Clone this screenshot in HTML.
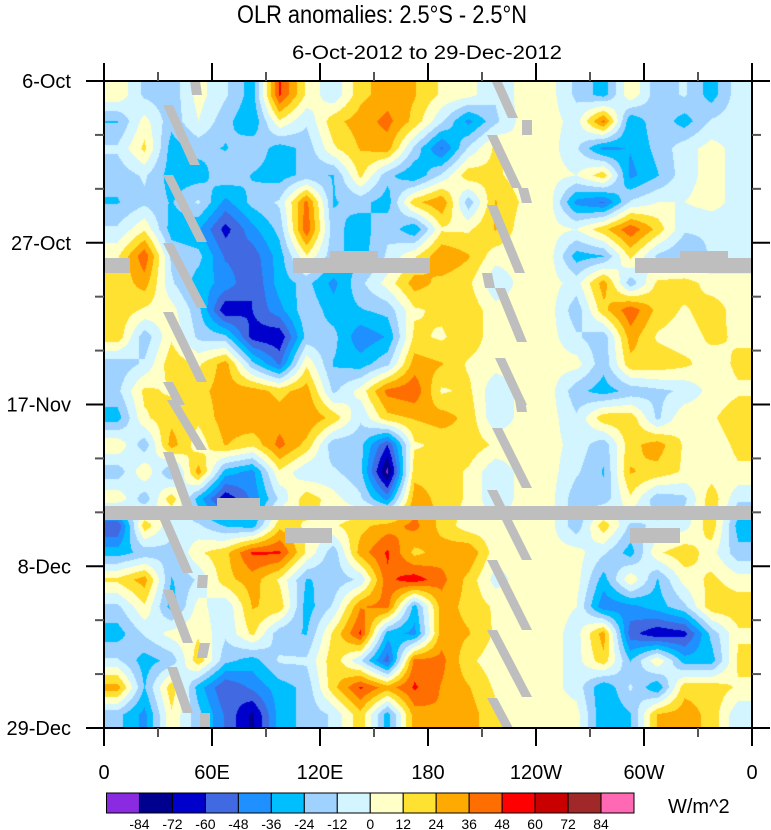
<!DOCTYPE html>
<html><head><meta charset="utf-8">
<style>
body{margin:0;background:#fff;width:771px;height:830px;overflow:hidden;font-family:"Liberation Sans",sans-serif;}
#wrap{position:relative;width:771px;height:830px;}
canvas{position:absolute;left:104px;top:81px;}
svg{position:absolute;left:0;top:0;}
</style></head><body>
<div id="wrap">
<canvas id="field" width="648" height="647"></canvas>
<svg id="svg" width="771" height="830">
<text x="382" y="23" font-size="25" text-anchor="middle" textLength="290" lengthAdjust="spacingAndGlyphs">OLR anomalies: 2.5°S - 2.5°N</text>
<text x="427" y="59" font-size="19" text-anchor="middle" textLength="270" lengthAdjust="spacingAndGlyphs">6-Oct-2012 to 29-Dec-2012</text>
<g id="missing"></g>
<rect x="104" y="81" width="648" height="647" fill="none" stroke="#000" stroke-width="2"/>
<g id="axes"></g>
<g id="cbar"></g>
<text x="668" y="813" font-size="20">W/m^2</text>
</svg>
</div>
<script>
const lonLabels=["0","60E","120E","180","120W","60W","0"];
const dateLabels=["6-Oct","27-Oct","17-Nov","8-Dec","29-Dec"];
const levels=[-84,-72,-60,-48,-36,-24,-12,0,12,24,36,48,60,72,84];
const colors=["#8a2be2","#00008f","#0000cd","#4169e1","#1e90ff","#00bfff","#a0d2ff","#d2f5ff","#ffffc8","#ffe132","#ffaa00","#ff6e00","#ff0000","#c80000","#a02828","#ff69b4"];
const r00=[10,-15,-20,5,-10,-30,50,10,-10,20,30,25,10,5,-10,5,5,-15,-30,10,-20,-10,-30,-5];
const r01=[-25,5,-20,0,-20,-35,10,-10,20,30,40,20,-10,-40,-15,5,5,-5,40,-35,-15,-30,-10,-5];
const r02=[-10,15,-30,-20,-25,-15,-30,-20,10,25,30,-15,-50,-10,15,0,5,-10,-40,-35,-20,-5,5,-5];
const r03=[-20,-10,-30,-30,-15,-25,-30,-20,-25,15,-20,-35,-10,20,15,5,5,0,20,-40,-25,-5,5,-5];
const r04=[-25,-15,-25,-10,-40,-20,-10,40,-25,-20,-30,20,35,-20,25,10,5,-40,-50,-10,0,0,5,-5];
const r05=[-10,10,-30,-35,-65,-40,-20,45,-20,-30,-15,-35,10,10,25,5,5,0,20,45,20,-10,-10,-5];
const r06=[10,45,-15,-20,-50,-55,-30,10,-20,-30,-10,10,35,25,5,5,5,-30,-25,15,-15,-25,-10,-10];
const r07=[15,30,-10,-30,-40,-60,-30,-20,-40,-15,5,30,20,15,-10,5,5,-5,30,-20,15,20,5,5];
const r08=[20,10,5,-20,-70,-60,-40,-15,-30,-25,-20,10,15,20,5,5,5,-20,20,45,20,10,20,5];
const r09=[20,-20,10,-15,-20,-65,-70,-20,-20,-45,-35,15,10,20,5,5,5,-10,-20,30,10,5,15,10];
const r10=[-20,-10,20,10,30,-20,-50,10,-25,-30,-15,30,25,10,5,5,5,5,-20,20,20,15,5,15];
const r11=[-15,15,10,20,30,30,20,30,-15,5,40,45,10,15,-10,5,5,-20,-30,-20,-15,-10,5,10];
const r12=[-30,10,20,15,30,35,30,35,20,-10,20,25,30,20,-10,5,5,-10,20,20,-15,10,10,20];
const r13=[10,-20,30,5,25,15,40,20,-20,-20,-60,10,15,20,10,5,5,-5,-20,20,30,10,5,15];
const r14=[-20,10,-25,30,-30,-40,10,-10,-10,-20,-88,20,20,10,-10,5,5,-10,-25,25,20,10,5,10];
const r15=[10,-20,20,-30,-70,-45,-10,20,5,-10,-40,30,20,10,-10,5,5,-20,-20,10,-20,-15,20,-10];
const r16=[-60,20,-10,-10,-25,-30,20,10,10,20,30,40,20,5,5,5,5,-20,20,-15,-10,-5,20,-30];
const r17=[-30,-20,-15,10,20,50,50,10,-20,30,50,20,30,35,5,5,5,5,-10,-30,10,20,5,-20];
const r18=[15,30,-25,-10,20,30,10,-25,-20,-10,45,55,40,20,-5,5,5,5,-30,10,-25,5,15,5];
const r19=[-15,10,-30,5,-10,25,20,-30,-10,35,40,-30,30,20,10,5,5,0,-45,-40,-30,-15,20,20];
const r20=[-30,-10,5,10,-10,15,-20,-25,15,50,-30,-40,30,25,10,5,5,-5,30,-55,-70,-65,-20,10];
const r21=[-10,-30,-20,20,-20,-30,-10,-10,20,-10,-55,40,40,15,5,5,5,-5,20,-25,10,-30,-30,15];
const r22=[30,-25,20,-30,-60,-45,-30,-20,20,50,30,50,35,25,10,5,5,-5,-35,-10,-35,20,20,10];
const r23=[-20,-40,10,-20,-50,-75,-30,-20,-10,20,-30,30,35,30,15,5,5,5,-35,-25,25,30,20,-10];
const field=[r00,r01,r02,r03,r04,r05,r06,r07,r08,r09,r10,r11,r12,r13,r14,r15,r16,r17,r18,r19,r20,r21,r22,r23];
const diagGaps=[[190,81,202,95],[163,105,200,165],[163,175,207,242],[163,243,207,308],[163,312,207,382],[163,382,185,405],[167,400,207,450],[163,452,193,507],[160,520,193,573],[198,575,207,588],[163,590,193,643],[200,643,207,658],[167,667,193,713],[200,713,210,728],
[492,82,518,118],[522,120,532,135],[487,135,522,188],[518,188,532,203],[487,205,525,273],[482,273,495,288],[495,288,527,342],[495,358,527,405],[515,400,527,412],[492,428,532,488],[487,490,532,560],[487,560,532,630],[487,630,532,697],[487,698,513,728]];
const barGaps=[[104,258,130,273],[293,258,430,273],[330,251,378,258],[635,258,752,273],[680,251,728,258],[104,506,752,520],[217,498,260,506],[285,528,332,543],[630,528,680,543]];

const X0=104,X1=752,Y0=81,Y1=728;
const nC=field[0].length,nR=field.length;
function xScale(lon){return X0+(X1-X0)*lon/360;}
function yScale(day){return Y0+(Y1-Y0)*day/84;}
function hex(c){return [parseInt(c.substr(1,2),16),parseInt(c.substr(3,2),16),parseInt(c.substr(5,2),16)];}
const rgb=colors.map(hex);
function idx(v){let i=0;while(i<levels.length&&v>=levels[i])i++;return i;}

const cv=document.getElementById('field'),ctx=cv.getContext('2d');
const W=cv.width,H=cv.height,img=ctx.createImageData(W,H);
const cw=W/nC,ch=H/nR;
for(let py=0;py<H;py++){
  let gy=(py+0.5)/ch-0.5;gy=Math.max(0,Math.min(nR-1,gy));
  const j0=Math.floor(gy),j1=Math.min(nR-1,j0+1),fy=gy-j0;
  for(let px=0;px<W;px++){
    let gx=(px+0.5)/cw-0.5;gx=Math.max(0,Math.min(nC-1,gx));
    const i0=Math.floor(gx),i1=Math.min(nC-1,i0+1),fx=gx-i0;
    const v=(field[j0][i0]*(1-fx)+field[j0][i1]*fx)*(1-fy)+(field[j1][i0]*(1-fx)+field[j1][i1]*fx)*fy;
    const c=rgb[idx(v)],k=(py*W+px)*4;
    img.data[k]=c[0];img.data[k+1]=c[1];img.data[k+2]=c[2];img.data[k+3]=255;
  }
}
ctx.putImageData(img,0,0);

const NS='http://www.w3.org/2000/svg';
function mk(tag,attrs,parent){const e=document.createElementNS(NS,tag);for(const k in attrs)e.setAttribute(k,attrs[k]);parent.appendChild(e);return e;}
const miss=document.getElementById('missing');
diagGaps.forEach(g=>{
  const p=mk('polygon',{points:`${g[0]},${g[1]} ${g[0]+10},${g[1]} ${g[2]},${g[3]} ${g[2]-10},${g[3]}`,fill:'#bebebe'},miss);
  
  
});
barGaps.forEach(g=>{
  const r=mk('rect',{x:g[0],y:g[1],width:g[2]-g[0],height:g[3]-g[1],fill:'#bebebe'},miss);
  
  
});

const ax=document.getElementById('axes');
for(let lon=0;lon<=360;lon+=30){
  const x=xScale(lon),major=lon%60===0,len=major?18:9,col=major?'#000':'#555';
  const t1=mk('line',{x1:x,y1:Y0,x2:x,y2:Y0-len,stroke:col,'stroke-width':2},ax);
  
  
  const t2=mk('line',{x1:x,y1:Y1,x2:x,y2:Y1+len,stroke:col,'stroke-width':2},ax);
  
  
}
lonLabels.forEach((s,i)=>{
  const t=mk('text',{x:xScale(i*60),y:779,'font-size':20,'text-anchor':'middle'},ax);t.textContent=s;
  
  
});
for(let d=0;d<=84;d+=7){
  const y=yScale(d),major=d%21===0,len=major?18:9,col=major?'#000':'#555';
  const t1=mk('line',{x1:X0,y1:y,x2:X0-len,y2:y,stroke:col,'stroke-width':2},ax);
  
  
  const t2=mk('line',{x1:X1,y1:y,x2:X1+len,y2:y,stroke:col,'stroke-width':2},ax);
  
  
}
dateLabels.forEach((s,i)=>{
  const t=mk('text',{x:71,y:yScale(i*21)+7,'font-size':20,'text-anchor':'end'},ax);t.textContent=s;
  
  
});
const cb=document.getElementById('cbar'),cbx=106.5,cbw=(634-106.5)/colors.length;
colors.forEach((c,i)=>{
  const r=mk('rect',{x:cbx+i*cbw,y:793,width:cbw,height:20,fill:c,stroke:'#000','stroke-width':1},cb);
  
  
});
levels.forEach((l,i)=>{
  const t=mk('text',{x:cbx+(i+1)*cbw,y:829,'font-size':14,'text-anchor':'middle'},cb);t.textContent=l;
  
  
});
</script>
</body></html>
